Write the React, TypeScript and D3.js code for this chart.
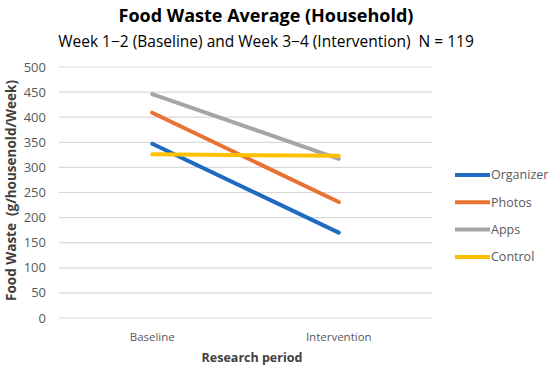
import React from "react";
import * as d3 from "d3";

const periods = ["Baseline", "Intervention"];
const seriesNames = ["Organizer", "Photos", "Apps", "Control"];
const organizer = [347, 170];
const photos = [409, 231];
const apps = [446, 317];
const control = [326, 323];
const yTicks = [0, 50, 100, 150, 200, 250, 300, 350, 400, 450, 500];
const colors = ["#1F6BC1", "#E97132", "#A5A5A5", "#FFC000"];

const W = 550, H = 371;
const margin = { left: 59, right: 118, top: 67, bottom: 53 };
const FONT = "'Open Sans', 'Noto Sans', sans-serif";

export default function App() {
  const allSeries = [organizer, photos, apps, control];
  const x = d3.scaleBand<string>().domain(periods).range([margin.left, W - margin.right]);
  const y = d3.scaleLinear().domain([0, 500]).range([H - margin.bottom, margin.top]);
  const line = d3
    .line<number>()
    .x((_, i) => (x(periods[i]) as number) + x.bandwidth() / 2)
    .y((d) => y(d));
  const legendX = 455;
  const legendY0 = 175;
  const legendStep = 27.3;
  return (
    <svg width={W} height={H} style={{ position: "absolute", left: 0, top: 0, background: "#fff", fontFamily: FONT }}>
      <text x={266} y={22} textAnchor="middle" fontSize={18} fontWeight={700} fill="#000">
        Food Waste Average (Household)
      </text>
      <text x={266} y={47} textAnchor="middle" fontSize={15.5} fill="#000" style={{ whiteSpace: "pre" }}>
        {"Week 1−2 (Baseline) and Week 3−4 (Intervention)  N = 119"}
      </text>
      {yTicks.map((t) => (
        <g key={t}>
          <line x1={margin.left} x2={W - margin.right} y1={y(t)} y2={y(t)} stroke="#D9D9D9" strokeWidth={1.2} />
          <text x={46} y={y(t)} dy="0.35em" textAnchor="end" fontSize={13} fill="#595959">
            {t}
          </text>
        </g>
      ))}
      {periods.map((p) => (
        <text key={p} x={(x(p) as number) + x.bandwidth() / 2} y={341} textAnchor="middle" fontSize={11.5} fill="#595959">
          {p}
        </text>
      ))}
      <text x={252} y={362} textAnchor="middle" fontSize={12.5} fontWeight={700} fill="#404040">
        Research period
      </text>
      <text
        transform={`translate(16,${(margin.top + H - margin.bottom) / 2 - 2}) rotate(-90)`}
        textAnchor="middle"
        fontSize={13.5}
        fontWeight={700}
        fill="#404040"
        style={{ whiteSpace: "pre" }}
      >
        {"Food Waste  (g/housenold/Week)"}
      </text>
      {allSeries.map((s, i) => (
        <path key={i} d={line(s) || ""} fill="none" stroke={colors[i]} strokeWidth={4} strokeLinecap="round" />
      ))}
      {seriesNames.map((n, i) => (
        <g key={n}>
          <line
            x1={legendX}
            x2={legendX + 35}
            y1={legendY0 + i * legendStep}
            y2={legendY0 + i * legendStep}
            stroke={colors[i]}
            strokeWidth={4}
          />
          <text x={legendX + 36} y={legendY0 + i * legendStep} dy="0.35em" fontSize={12.5} fill="#595959">
            {n}
          </text>
        </g>
      ))}
    </svg>
  );
}
